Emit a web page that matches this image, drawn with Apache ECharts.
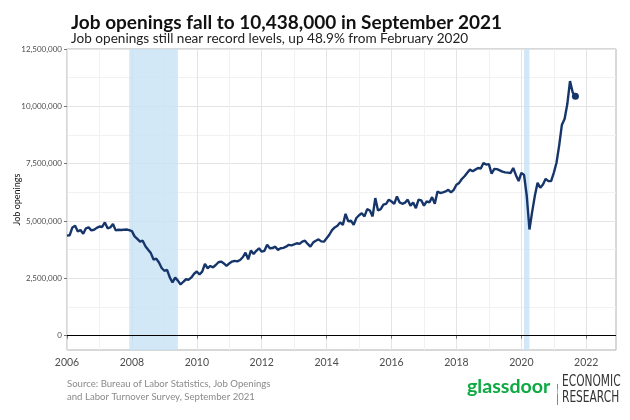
<!DOCTYPE html>
<html><head><meta charset="utf-8">
<script src="https://cdn.jsdelivr.net/npm/echarts@6/dist/echarts.min.js"></script>
<style>html,body{margin:0;padding:0;background:#fff}#c{width:630px;height:420px}</style>
</head><body><div id="c"></div>
<script>
// Job openings, thousands, monthly (Jan..Dec)
const startYear = 2006;
const openings2006 = [4360, 4380, 4720, 4790, 4540, 4610, 4440, 4680, 4720, 4590, 4620, 4700];
const openings2007 = [4760, 4740, 4940, 4680, 4720, 4870, 4590, 4620, 4610, 4620, 4630, 4600];
const openings2008 = [4560, 4330, 4220, 4100, 4140, 3900, 3750, 3600, 3320, 3360, 3190, 2950];
const openings2009 = [2830, 2870, 2540, 2320, 2530, 2400, 2230, 2350, 2460, 2440, 2540, 2700];
const openings2010 = [2800, 2670, 2790, 3130, 2940, 3040, 2980, 3080, 3200, 3230, 3150, 3040];
const openings2011 = [3150, 3230, 3260, 3240, 3300, 3420, 3620, 3330, 3710, 3560, 3700, 3810];
const openings2012 = [3660, 3700, 3960, 3810, 3820, 3880, 3740, 3810, 3830, 3880, 3960, 3940];
const openings2013 = [3980, 4030, 4000, 4100, 4140, 4000, 3880, 4060, 4140, 4200, 4110, 4100];
const openings2014 = [4250, 4400, 4600, 4720, 4790, 4940, 4830, 5310, 4980, 5020, 4830, 5130];
const openings2015 = [5250, 5340, 5200, 5520, 5460, 5200, 6000, 5460, 5520, 5710, 5750, 5930];
const openings2016 = [5850, 5750, 6070, 5810, 5750, 5800, 5930, 5670, 5810, 5560, 5930, 5900];
const openings2017 = [5670, 5860, 5810, 6040, 5750, 6290, 6220, 6250, 6290, 6360, 6250, 6360];
const openings2018 = [6580, 6660, 6830, 6950, 7100, 7240, 7170, 7240, 7310, 7290, 7530, 7460];
const openings2019 = [7480, 7060, 7270, 7260, 7210, 7150, 7120, 7110, 7090, 7310, 7000, 6740];
const openings2020 = [7100, 7010, 6100, 4630, 5400, 6100, 6670, 6450, 6590, 6840, 6740, 6740];
const openings2021 = [7100, 7540, 8300, 9200, 9450, 10100, 11100, 10600, 10438];

const recessions = [[2007.917, 2009.417], [2020.083, 2020.25]];
const xTickLabels = [2006, 2008, 2010, 2012, 2014, 2016, 2018, 2020, 2022];
const yTickValues = [0, 2500000, 5000000, 7500000, 10000000, 12500000];

const allOpenings = [].concat(openings2006, openings2007, openings2008, openings2009, openings2010,
  openings2011, openings2012, openings2013, openings2014, openings2015, openings2016,
  openings2017, openings2018, openings2019, openings2020, openings2021);
const seriesData = allOpenings.map((v, i) => [startYear + i / 12, v * 1000]);
const lastPoint = seriesData[seriesData.length - 1];

const FONT = 'Lato';
const MAJOR = '#e4e4e4', MINOR = '#f1f1f1';
const xMin = 2006, xMax = 2022.917, yMin = -625000, yMax = 12500000;

const chart = echarts.init(document.getElementById('c'), null, {renderer: 'canvas'});
chart.setOption({
  animation: false,
  backgroundColor: '#fff',
  textStyle: {fontFamily: FONT},
  title: [
    {text: 'Job openings fall to 10,438,000 in September 2021', left: 66, top: 8,
     textStyle: {fontFamily: FONT, fontWeight: 'bold', fontSize: 19, color: '#111'}},
    {text: 'Job openings still near record levels, up 48.9% from February 2020', left: 66, top: 27,
     textStyle: {fontFamily: FONT, fontWeight: 'normal', fontSize: 13.6, color: '#222'}}
  ],
  grid: {left: 67, right: 14, top: 49, bottom: 70, outerBoundsMode: 'none', containLabel: false,
         show: true, borderColor: '#b0b0b0', borderWidth: 1, backgroundColor: 'transparent'},
  xAxis: [
    {type: 'value', min: xMin, max: xMax, interval: 1,
     axisLine: {show: false}, axisTick: {show: false},
     axisLabel: {customValues: xTickLabels, fontSize: 10.5, color: '#4d4d4d', margin: 7, fontFamily: FONT,
       formatter: v => String(Math.round(v))},
     splitLine: {show: true, showMaxLine: false, lineStyle: {color: [MAJOR, MINOR], width: 1}}},
    {type: 'value', min: xMin, max: xMax, interval: 1, position: 'bottom', offset: 0,
     axisLine: {show: false}, axisLabel: {show: false}, splitLine: {show: false},
     axisTick: {show: true, customValues: xTickLabels, length: 3, lineStyle: {color: '#777'}}}
  ],
  yAxis: [
    {type: 'value', min: yMin, max: yMax, interval: 625000,
     axisLine: {show: false}, axisTick: {show: false},
     axisLabel: {customValues: yTickValues, fontSize: 8, color: '#4d4d4d', margin: 5, fontFamily: FONT,
       formatter: v => Number(v).toLocaleString('en-US')},
     splitLine: {show: true, lineStyle: {color: ['rgba(0,0,0,0)', MAJOR, 'rgba(0,0,0,0)', MINOR], width: 1}},
     name: 'Job openings', nameLocation: 'middle', nameGap: 45, nameMoveOverlap: false,
     nameTextStyle: {fontSize: 9, color: '#111', fontFamily: FONT}},
    {type: 'value', min: yMin, max: yMax, interval: 625000, position: 'left', offset: 0,
     axisLine: {show: false}, axisLabel: {show: false}, splitLine: {show: false},
     axisTick: {show: true, customValues: yTickValues, length: 3, lineStyle: {color: '#777'}}}
  ],
  series: [
    {type: 'line', xAxisIndex: 0, yAxisIndex: 0, data: seriesData, symbol: 'none', smooth: false,
     lineStyle: {color: '#16366b', width: 2.4}, z: 5,
     markArea: {silent: true, itemStyle: {color: 'rgba(200,227,244,0.82)'},
       data: recessions.map(r => [{xAxis: r[0]}, {xAxis: r[1]}])},
     markLine: {silent: true, symbol: ['none', 'none'], label: {show: false},
       lineStyle: {color: '#000', width: 1.2, type: 'solid'}, data: [{yAxis: 0}]}},
    {type: 'scatter', xAxisIndex: 0, yAxisIndex: 0, data: [lastPoint], symbol: 'circle', symbolSize: 7,
     itemStyle: {color: '#16366b', opacity: 1}, z: 6}
  ],
  graphic: [
    {type: 'text', left: 67, top: 377, style: {text: 'Source: Bureau of Labor Statistics, Job Openings\nand Labor Turnover Survey, September 2021',
      fill: '#8a8a8a', font: '9.6px Lato', lineHeight: 13}},
    {type: 'text', left: 467, top: 377, style: {text: 'glassdoor', fill: '#0caa41', font: 'bold 19.6px Lato'}},
    {type: 'rect', shape: {x: 557, y: 384, width: 1, height: 21}, style: {fill: '#888'}},
    {type: 'rect', shape: {x: 557, y: 389, width: 1, height: 5}, style: {fill: '#f2b91f'}},
    {type: 'text', x: 562, y: 374, scaleX: 0.665, style: {text: 'ECONOMIC\nRESEARCH', fill: '#333', font: '16px "DejaVu Sans"', lineHeight: 16}}
  ]
});
</script></body></html>
